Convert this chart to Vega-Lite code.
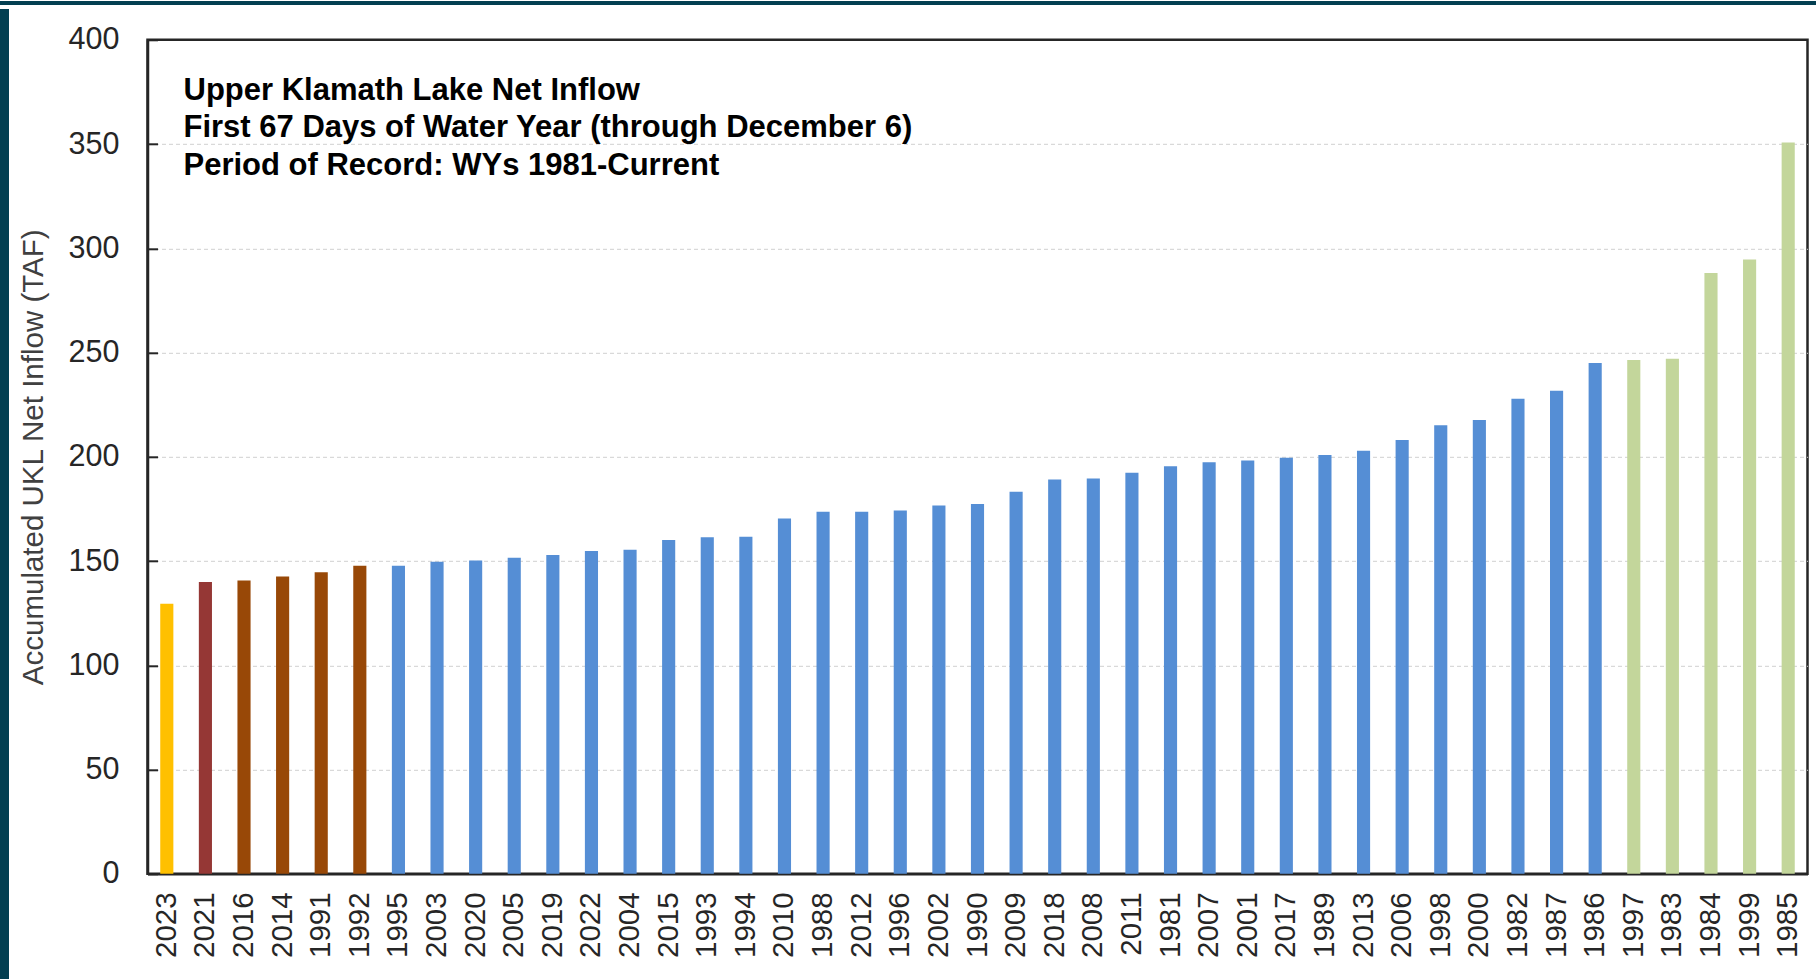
{
  "$schema": "https://vega.github.io/schema/vega-lite/v6.json",
  "autosize": {"type": "pad"},
  "padding": 0,
  "background": "white",
  "spacing": 0,
  "vconcat": [
    {
      "width": 1816,
      "height": 4,
      "view": {"fill": "#033F51", "stroke": null},
      "data": {"values": [{"a": 1}]},
      "mark": {"type": "point", "opacity": 0},
      "encoding": {}
    },
    {
      "spacing": 7.5,
      "hconcat": [
        {
          "width": 9,
          "height": 975,
          "view": {"fill": "#033F51", "stroke": null},
          "data": {"values": [{"a": 1}]},
          "mark": {"type": "point", "opacity": 0},
          "encoding": {}
        },
        {
          "spacing": 9.8,
          "vconcat": [
            {
              "width": 1,
              "height": 1,
              "view": {"fill": null, "stroke": null},
              "data": {"values": [{"a": 1}]},
              "mark": {"type": "point", "opacity": 0},
              "encoding": {}
            },
            {
              "width": 1660,
              "height": 834,
              "view": {"stroke": "#262626", "strokeWidth": 2.5},
              "title": {
                "text": ["Upper Klamath Lake Net Inflow", "First 67 Days of Water Year (through December 6)", "Period of Record: WYs 1981-Current"],
                "anchor": "start",
                "frame": "group",
                "orient": "top",
                "baseline": "top",
                "offset": 0,
                "dx": 36,
                "dy": 157,
                "font": "Liberation Sans",
                "fontSize": 31,
                "fontWeight": "bold",
                "color": "#000000",
                "lineHeight": 37.5
              },
              "data": {
                "values": [
                  {"year": "2023", "inflow": 129.5, "cat": "current"},
                  {"year": "2021", "inflow": 140.0, "cat": "y2021"},
                  {"year": "2016", "inflow": 140.7, "cat": "dry"},
                  {"year": "2014", "inflow": 142.6, "cat": "dry"},
                  {"year": "1991", "inflow": 144.6, "cat": "dry"},
                  {"year": "1992", "inflow": 147.7, "cat": "dry"},
                  {"year": "1995", "inflow": 147.7, "cat": "normal"},
                  {"year": "2003", "inflow": 149.7, "cat": "normal"},
                  {"year": "2020", "inflow": 150.3, "cat": "normal"},
                  {"year": "2005", "inflow": 151.6, "cat": "normal"},
                  {"year": "2019", "inflow": 152.9, "cat": "normal"},
                  {"year": "2022", "inflow": 154.8, "cat": "normal"},
                  {"year": "2004", "inflow": 155.4, "cat": "normal"},
                  {"year": "2015", "inflow": 160.1, "cat": "normal"},
                  {"year": "1993", "inflow": 161.4, "cat": "normal"},
                  {"year": "1994", "inflow": 161.7, "cat": "normal"},
                  {"year": "2010", "inflow": 170.4, "cat": "normal"},
                  {"year": "1988", "inflow": 173.6, "cat": "normal"},
                  {"year": "2012", "inflow": 173.7, "cat": "normal"},
                  {"year": "1996", "inflow": 174.2, "cat": "normal"},
                  {"year": "2002", "inflow": 176.6, "cat": "normal"},
                  {"year": "1990", "inflow": 177.4, "cat": "normal"},
                  {"year": "2009", "inflow": 183.2, "cat": "normal"},
                  {"year": "2018", "inflow": 189.1, "cat": "normal"},
                  {"year": "2008", "inflow": 189.6, "cat": "normal"},
                  {"year": "2011", "inflow": 192.3, "cat": "normal"},
                  {"year": "1981", "inflow": 195.5, "cat": "normal"},
                  {"year": "2007", "inflow": 197.4, "cat": "normal"},
                  {"year": "2001", "inflow": 198.2, "cat": "normal"},
                  {"year": "2017", "inflow": 199.5, "cat": "normal"},
                  {"year": "1989", "inflow": 200.9, "cat": "normal"},
                  {"year": "2013", "inflow": 202.9, "cat": "normal"},
                  {"year": "2006", "inflow": 208.1, "cat": "normal"},
                  {"year": "1998", "inflow": 215.1, "cat": "normal"},
                  {"year": "2000", "inflow": 217.6, "cat": "normal"},
                  {"year": "1982", "inflow": 227.9, "cat": "normal"},
                  {"year": "1987", "inflow": 231.7, "cat": "normal"},
                  {"year": "1986", "inflow": 245.0, "cat": "normal"},
                  {"year": "1997", "inflow": 246.4, "cat": "wet"},
                  {"year": "1983", "inflow": 247.0, "cat": "wet"},
                  {"year": "1984", "inflow": 288.1, "cat": "wet"},
                  {"year": "1999", "inflow": 294.6, "cat": "wet"},
                  {"year": "1985", "inflow": 350.8, "cat": "wet"}
                ]
              },
              "mark": {"type": "bar"},
              "encoding": {
                "x": {
                  "field": "year",
                  "type": "nominal",
                  "sort": null,
                  "scale": {"paddingInner": 0.66, "paddingOuter": 0.33},
                  "axis": {
                    "title": null,
                    "labelAngle": -90,
                    "labelAlign": "right",
                    "labelBaseline": "middle",
                    "labelFont": "Liberation Sans",
                    "labelFontSize": 29.5,
                    "labelColor": "#262626",
                    "labelPadding": 18,
                    "ticks": false,
                    "domainColor": "#262626",
                    "domainWidth": 2.5,
                    "grid": false
                  }
                },
                "y": {
                  "field": "inflow",
                  "type": "quantitative",
                  "scale": {"domain": [0, 400], "nice": false},
                  "axis": {
                    "title": "Accumulated UKL Net Inflow (TAF)",
                    "titleFont": "Liberation Sans",
                    "titleFontSize": 29.5,
                    "titleFontWeight": "normal",
                    "titleColor": "#404040",
                    "titlePadding": 19.5,
                    "values": [0, 50, 100, 150, 200, 250, 300, 350, 400],
                    "labelFont": "Liberation Sans",
                    "labelFontSize": 30.5,
                    "labelColor": "#262626",
                    "labelPadding": 38.5,
                    "tickSize": -10,
                    "tickColor": "#262626",
                    "tickWidth": 2,
                    "domainColor": "#262626",
                    "domainWidth": 2.5,
                    "grid": true,
                    "gridColor": "#d0d0d0",
                    "gridOpacity": {"condition": {"test": "datum.value >= 400", "value": 0}, "value": 1},
                    "gridDash": [4, 3],
                    "gridWidth": 1
                  }
                },
                "color": {
                  "field": "cat",
                  "type": "nominal",
                  "scale": {
                    "domain": ["current", "y2021", "dry", "normal", "wet"],
                    "range": ["#FFC000", "#953735", "#984807", "#558ED5", "#C3D69B"]
                  },
                  "legend": null
                }
              }
            }
          ]
        }
      ]
    }
  ]
}
